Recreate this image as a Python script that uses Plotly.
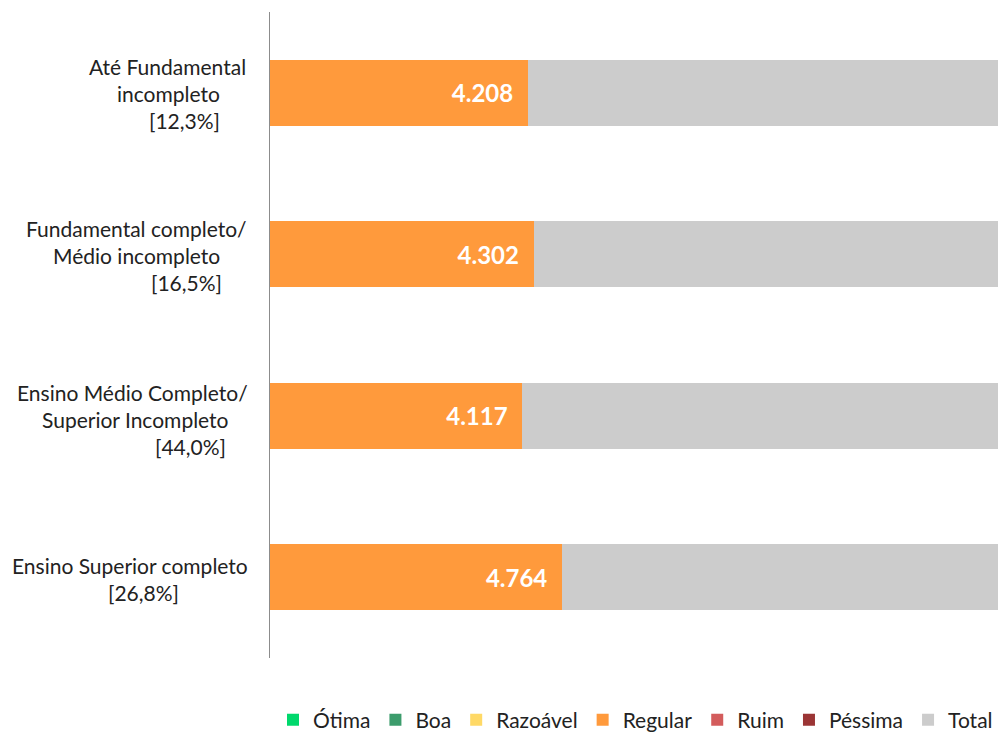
import plotly.graph_objects as go

categories = ["Até Fundamental incompleto", "Fundamental completo/ Médio incompleto",
              "Ensino Médio Completo/ Superior Incompleto", "Ensino Superior completo"]
label_lines = [
    ["Até Fundamental", "incompleto", "[12,3%]"],
    ["Fundamental completo/", "Médio incompleto", "[16,5%]"],
    ["Ensino Médio Completo/", "Superior Incompleto", "[44,0%]"],
    ["Ensino Superior completo", "[26,8%]"],
]
# horizontal centre (px) of each label line
label_centers = [
    [167, 168, 184],
    [136, 136, 186],
    [132, 135, 190],
    [130, 143],
]
# small vertical nudge (px) of each label block
label_nudge = [-3, -3, -6, -4]
otima = [0, 0, 0, 0]
boa = [0, 0, 0, 0]
razoavel = [0, 0, 0, 0]
regular = [4.208, 4.302, 4.117, 4.764]
ruim = [0, 0, 0, 0]
pessima = [0, 0, 0, 0]
total = [7.8, 7.7, 7.9, 7.3]

series = [
    ("Ótima", otima, "#00D86C"),
    ("Boa", boa, "#3C9C6C"),
    ("Razoável", razoavel, "#FFD966"),
    ("Regular", regular, "#FF9A3C"),
    ("Ruim", ruim, "#D35C5C"),
    ("Péssima", pessima, "#9B3535"),
    ("Total", total, "#CCCCCC"),
]

FONT = "Lato"
fig = go.Figure()
for name, vals, col in series:
    kw = {}
    if name == "Regular":
        kw = dict(text=[f"{v:.3f}\u00a0\u00a0" for v in vals], textposition="inside",
                  insidetextanchor="end", constraintext="none",
                  textfont=dict(family=FONT, size=24, color="white", weight="bold"))
    fig.add_trace(go.Bar(y=categories, x=vals, name=name, orientation="h",
                         marker=dict(color=col, line=dict(width=0)),
                         hoverinfo="skip", **kw))

W, H = 998, 733
L, T, B = 270, 12, 75
ann = []
line_h = 27
for ci, (lines, centers) in enumerate(zip(label_lines, label_centers)):
    n = len(lines)
    for li, (txt, cx) in enumerate(zip(lines, centers)):
        off = (li - (n - 1) / 2) * line_h
        ann.append(dict(xref="paper", yref="y", x=0, y=categories[ci],
                        xshift=cx - L, yshift=-off + 2 + label_nudge[ci], text=txt,
                        showarrow=False, xanchor="center", yanchor="middle",
                        font=dict(family=FONT, size=21, color="#222222")))

fig.update_layout(
    width=W, height=H,
    margin=dict(l=L, r=0, t=T, b=B, pad=0, autoexpand=False),
    barmode="stack", bargap=0.59,
    plot_bgcolor="white", paper_bgcolor="white",
    font=dict(family=FONT, size=20, color="#222222"),
    xaxis=dict(range=[0, 11.88], showgrid=False, zeroline=False, showline=False,
               showticklabels=False, ticks=""),
    yaxis=dict(autorange="reversed", showgrid=False, zeroline=False,
               showline=True, linecolor="#8C8C8C", linewidth=1,
               showticklabels=False, ticks=""),
    showlegend=True,
    legend=dict(orientation="h", x=1.0, xanchor="right", y=-0.096, yanchor="middle",
                font=dict(family=FONT, size=21, color="#222222"),
                itemwidth=30, traceorder="normal", bgcolor="rgba(0,0,0,0)"),
    annotations=ann,
)
fig.write_html("out.html", config={"displayModeBar": False},
               post_script="document.body.style.margin='0';document.body.style.overflow='hidden';")
